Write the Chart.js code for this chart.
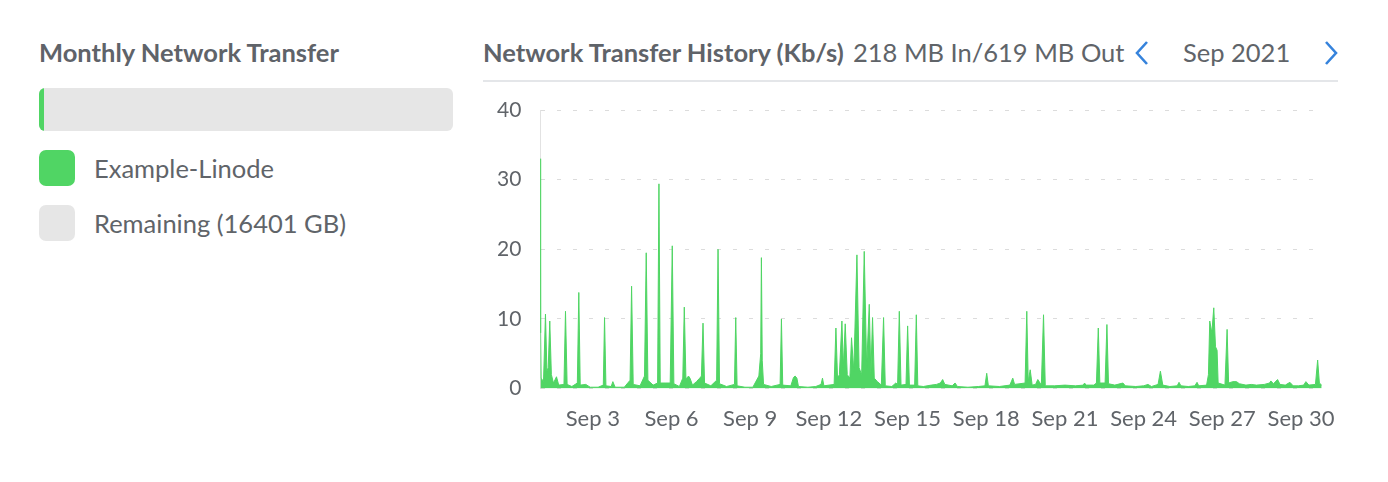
<!DOCTYPE html>
<html>
<head>
<meta charset="utf-8">
<script src="https://cdn.jsdelivr.net/npm/chart.js@4.4.0/dist/chart.umd.min.js"></script>
<style>
  body { margin:0; background:#fff; font-family:Lato, "Open Sans", sans-serif; color:#606469; }
  .abs { position:absolute; white-space:nowrap; }
  .head { font-weight:700; font-size:25.5px; line-height:30px; color:#5f6369; }
  .txt { font-size:25.5px; line-height:30px; }
  .swatch { position:absolute; width:36px; height:36px; border-radius:7px; }
</style>
</head>
<body>
<div class="abs head" style="left:39px; top:37px;">Monthly Network Transfer</div>
<div class="abs" style="left:39px; top:88px; width:414px; height:43px; background:#e6e6e6; border-radius:6px; overflow:hidden;">
  <div style="width:5px; height:43px; background:#50d564;"></div>
</div>
<div class="swatch" style="left:39px; top:150px; background:#50d564;"></div>
<div class="abs txt" style="left:94px; top:153px;">Example-Linode</div>
<div class="swatch" style="left:39px; top:205px; background:#e6e6e6;"></div>
<div class="abs txt" style="left:94px; top:208px;">Remaining (16401 GB)</div>

<div class="abs head" style="left:483px; top:37px;">Network Transfer History (Kb/s)</div>
<div class="abs txt" style="left:853px; top:37px;">218 MB In/619 MB Out</div>
<svg class="abs" style="left:1131px; top:40px;" width="22" height="26"><polyline points="16,2 6,13 16,24" fill="none" stroke="#3683dc" stroke-width="2.6"/></svg>
<div class="abs txt" style="left:1183px; top:37px;">Sep 2021</div>
<svg class="abs" style="left:1320px; top:40px;" width="22" height="26"><polyline points="6,2 16,13 6,24" fill="none" stroke="#3683dc" stroke-width="2.6"/></svg>
<div class="abs" style="left:483px; top:80px; width:855px; height:2px; background:#e4e6e9;"></div>

<div class="abs" style="left:483px; top:95px; width:857px; height:345px;">
  <canvas id="netChart"></canvas>
</div>

<script>
// day of September (1.0 = Sep 1 00:00) and traffic in Kb/s
const sampleDays = [
  1.000, 1.010, 1.030, 1.12, 1.195, 1.25, 1.30, 1.359, 1.42, 1.50, 1.615, 1.70, 1.90, 1.958, 2.02, 2.20,
  2.41, 2.466, 2.52, 2.733, 2.90, 3.20, 3.40, 3.447, 3.50, 3.70, 3.764, 3.85, 4.20, 4.42, 4.478, 4.54,
  4.80, 4.97, 5.036, 5.10, 5.30, 5.47, 5.521, 5.57, 5.788, 5.95, 6.029, 6.09, 6.30, 6.43, 6.487, 6.55,
  6.65, 6.704, 6.80, 6.95, 7.075, 7.14, 7.201, 7.26, 7.50, 7.72, 7.774, 7.83, 8.10, 8.40, 8.449, 8.50,
  8.80, 9.10, 9.33, 9.40, 9.427, 9.46, 9.51, 9.80, 10.14, 10.191, 10.24, 10.55, 10.65, 10.714, 10.78, 10.84,
  11.20, 11.50, 11.70, 11.756, 11.81, 12.20, 12.268, 12.33, 12.40, 12.497, 12.55, 12.623, 12.70, 12.80, 12.863, 12.95,
  13.069, 13.15, 13.25, 13.348, 13.44, 13.539, 13.60, 13.665, 13.73, 13.85, 14.00, 14.085, 14.15, 14.40, 14.55, 14.62,
  14.685, 14.75, 14.94, 15.002, 15.07, 15.27, 15.333, 15.39, 15.60, 15.90, 16.10, 16.25, 16.338, 16.42, 16.70, 16.811,
  16.90, 17.30, 17.70, 17.95, 18.018, 18.08, 18.50, 18.90, 19.011, 19.08, 19.48, 19.545, 19.60, 19.675, 19.75, 19.88,
  19.965, 20.10, 20.183, 20.25, 20.60, 21.00, 21.40, 21.70, 21.748, 21.80, 22.10, 22.20, 22.271, 22.33, 22.53, 22.600,
  22.66, 22.90, 23.211, 23.30, 23.70, 24.00, 24.165, 24.30, 24.55, 24.639, 24.73, 25.00, 25.28, 25.349, 25.42, 25.70,
  25.95, 26.036, 26.10, 26.40, 26.47, 26.521, 26.60, 26.674, 26.74, 26.800, 26.84, 27.10, 27.182, 27.24, 27.40, 27.540,
  27.65, 27.90, 28.10, 28.30, 28.60, 28.80, 28.850, 28.95, 29.106, 29.20, 29.40, 29.576, 29.70, 29.90, 30.10, 30.187,
  30.30, 30.55, 30.634, 30.70, 30.787
];
const kbps = [
  33, 8, 1.5, 1.0, 10.7, 2.5, 3, 9.7, 2, 0.8, 1.7, 0.5, 0.6, 11.1, 0.6, 0.3,
  0.8, 13.8, 0.5, 0.6, 0.2, 0.2, 0.5, 10.2, 0.4, 0.3, 1.0, 0.2, 0.2, 1.2, 14.7, 0.6,
  0.4, 1.8, 19.5, 1.2, 0.5, 0.8, 29.4, 0.8, 0.8, 0.8, 20.5, 0.7, 0.3, 1.5, 11.7, 1.4,
  1.8, 1.5, 0.5, 1.0, 1.5, 1.8, 9.4, 0.8, 0.4, 1.2, 20, 0.7, 0.3, 0.6, 10.2, 0.4,
  0.2, 0.2, 1.8, 5, 18.8, 4, 0.6, 0.3, 0.6, 10, 0.5, 0.4, 1.6, 1.8, 1.5, 0.3,
  0.2, 0.3, 0.6, 1.5, 0.4, 0.6, 8.7, 1.5, 2, 9.7, 3, 9.3, 2, 1.5, 7.3, 2.5,
  19.2, 3, 2, 19.7, 3, 12.1, 2, 10.2, 1.5, 1, 0.5, 10.2, 0.4, 0.3, 0.8, 0.6,
  11.1, 0.5, 0.6, 9, 0.5, 0.5, 10.6, 0.4, 0.3, 0.5, 0.6, 0.8, 1.3, 0.6, 0.4, 0.8,
  0.3, 0.2, 0.3, 0.4, 2.2, 0.4, 0.3, 0.5, 1.5, 0.6, 0.8, 11.1, 1, 2.7, 0.5, 0.6,
  1.3, 0.5, 10.6, 0.4, 0.4, 0.5, 0.4, 0.5, 0.8, 0.5, 0.5, 0.8, 8.7, 0.8, 0.8, 9.2,
  0.7, 0.5, 0.8, 0.4, 0.3, 0.4, 0.6, 0.3, 0.6, 2.5, 0.5, 0.3, 0.4, 0.9, 0.4, 0.3,
  0.4, 0.9, 0.4, 0.5, 2, 9.7, 8, 11.6, 6, 5.5, 0.8, 0.5, 8.5, 0.8, 1.0, 1.0,
  0.7, 0.5, 0.6, 0.5, 0.6, 0.8, 1.1, 0.7, 1.3, 0.6, 0.5, 0.9, 0.4, 0.4, 0.5, 1.0,
  0.5, 0.6, 4.1, 0.8, 0.5
];
const tickDays = [3, 6, 9, 12, 15, 18, 21, 24, 27, 30];
const yTicks = [0, 10, 20, 30, 40];
const monthLabel = 'Sep';

const points = sampleDays.map(function(d, i){ return {x: d, y: kbps[i]}; });
const green = '#50d564';

new Chart(document.getElementById('netChart'), {
  type: 'line',
  data: {
    datasets: [{
      label: 'Example-Linode',
      data: points,
      borderColor: green,
      backgroundColor: green,
      borderWidth: 1,
      pointRadius: 0,
      tension: 0,
      fill: 'origin'
    }]
  },
  options: {
    responsive: true,
    maintainAspectRatio: false,
    animation: false,
    layout: { padding: { left: 14, right: 18, top: 15, bottom: 8 } },
    plugins: { legend: { display: false }, tooltip: { enabled: false } },
    scales: {
      x: {
        type: 'linear',
        min: 1,
        max: 30.8,
        afterBuildTicks: function(axis){ axis.ticks = tickDays.map(function(v){ return {value: v}; }); },
        ticks: {
          autoSkip: false,
          maxRotation: 0,
          padding: 0,
          color: '#606469',
          font: { family: 'Lato', size: 22 },
          callback: function(v){ return monthLabel + ' ' + v; }
        },
        grid: { display: true, color: 'transparent', drawTicks: true, tickLength: 17, tickColor: 'transparent' },
        border: { display: false }
      },
      y: {
        min: 0,
        max: 40,
        afterBuildTicks: function(axis){ axis.ticks = yTicks.map(function(v){ return {value: v}; }); },
        ticks: {
          padding: 0,
          color: '#606469',
          font: { family: 'Lato', size: 21 }
        },
        grid: { color: '#dcdcdc', drawTicks: true, tickLength: 19, tickColor: 'transparent' },
        border: { display: true, color: '#e2e2e2', dash: [4, 12] }
      }
    }
  }
});
</script>
</body>
</html>
